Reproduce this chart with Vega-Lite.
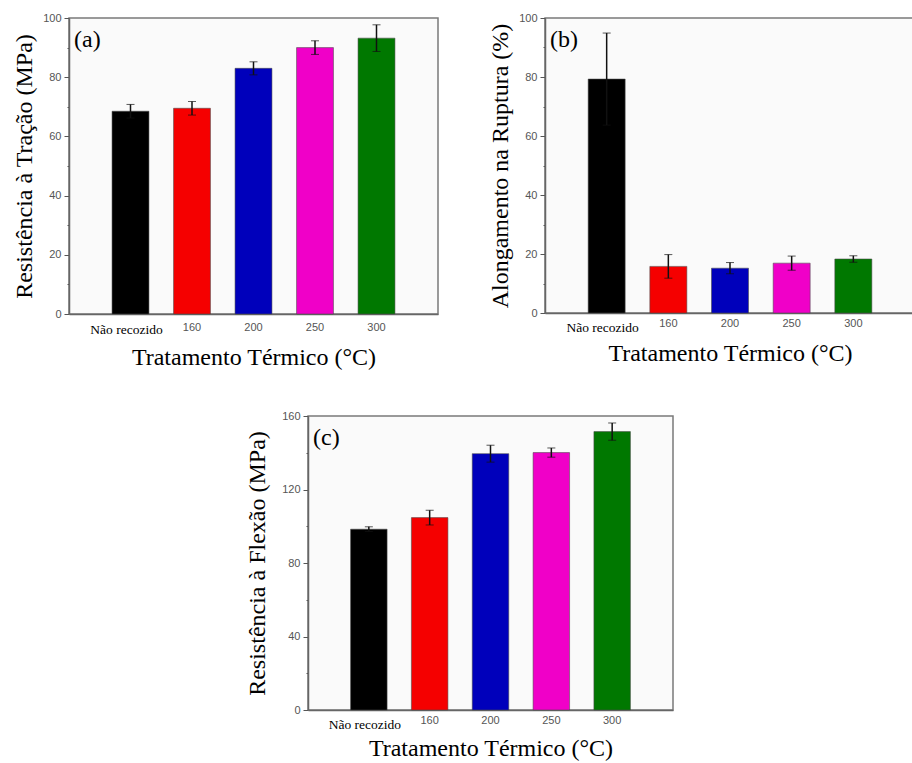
{
  "$schema": "https://vega.github.io/schema/vega-lite/v6.json",
  "padding": {"left": 11, "top": 11, "right": 0, "bottom": 0},
  "background": "white",
  "config": {
    "view": {"stroke": "#7a7a7a", "strokeWidth": 1.5, "fill": "#fafafa"},
    "axis": {
      "grid": false,
      "domainColor": "#666666",
      "domainWidth": 1.5,
      "titleFont": "Liberation Serif",
      "titleFontWeight": "normal",
      "titleFontSize": 24,
      "titleColor": "#000000"
    },
    "axisY": {
      "labelFont": "Liberation Sans",
      "labelFontSize": 11,
      "labelColor": "#555555",
      "tickColor": "#555555",
      "tickWidth": 1,
      "labelPadding": 3,
      "titlePadding": 6
    },
    "axisX": {
      "ticks": false,
      "labelAngle": 0,
      "titlePadding": 10
    },
    "title": {
      "font": "Liberation Serif",
      "fontSize": 24,
      "fontWeight": "normal",
      "color": "#000000",
      "anchor": "start",
      "frame": "group",
      "offset": -40,
      "dx": 5
    }
  },
  "datasets": {
    "tracao": [
      {"tratamento": "Não recozido", "media": 68.5, "erro": 2.3},
      {"tratamento": "160", "media": 69.5, "erro": 2.3},
      {"tratamento": "200", "media": 83.0, "erro": 2.2},
      {"tratamento": "250", "media": 90.0, "erro": 2.3},
      {"tratamento": "300", "media": 93.2, "erro": 4.5}
    ],
    "alongamento": [
      {"tratamento": "Não recozido", "media": 79.3, "erro": 15.6},
      {"tratamento": "160", "media": 15.8, "erro": 4.0},
      {"tratamento": "200", "media": 15.2, "erro": 1.9},
      {"tratamento": "250", "media": 16.9, "erro": 2.4},
      {"tratamento": "300", "media": 18.3, "erro": 1.1}
    ],
    "flexao": [
      {"tratamento": "Não recozido", "media": 98.4, "erro": 1.3},
      {"tratamento": "160", "media": 104.7, "erro": 4.0},
      {"tratamento": "200", "media": 139.5, "erro": 4.6},
      {"tratamento": "250", "media": 140.1, "erro": 2.5},
      {"tratamento": "300", "media": 151.5, "erro": 4.7}
    ]
  },
  "spacing": 38,
  "vconcat": [
    {
      "spacing": 48,
      "hconcat": [
        {
          "width": 369,
          "height": 296,
          "title": "(a)",
          "data": {"name": "tracao"},
          "encoding": {
            "x": {"field": "tratamento", "type": "nominal", "sort": null,
                  "scale": {"paddingInner": 0.4, "paddingOuter": 0.7},
                  "axis": {"title": "Tratamento Térmico (°C)",
                           "labelFont": {"condition": {"test": "datum.value === 'Não recozido'", "value": "Liberation Serif"}, "value": "Liberation Sans"},
                           "labelFontSize": {"condition": {"test": "datum.value === 'Não recozido'", "value": 13.5}, "value": 11},
                           "labelColor": {"condition": {"test": "datum.value === 'Não recozido'", "value": "#000000"}, "value": "#555555"},
                           "labelPadding": {"condition": {"test": "datum.value === 'Não recozido'", "value": 8}, "value": 7},
                           "labelOffset": {"condition": {"test": "datum.value === 'Não recozido'", "value": -4}, "value": 0}}},
            "y": {"field": "media", "type": "quantitative",
                  "scale": {"domain": [0, 100], "nice": false},
                  "axis": {"title": "Resistência à Tração (MPa)",
                           "values": [0, 10, 20, 30, 40, 50, 60, 70, 80, 90, 100],
                           "labelExpr": "datum.value % 20 === 0 ? datum.label : ''",
                           "tickSize": {"condition": {"test": "datum.value % 20 === 0", "value": 5}, "value": 2}}}
          },
          "layer": [
            {
              "mark": {"type": "bar", "stroke": "#4a4a4a", "strokeWidth": 0.8, "strokeOpacity": 0.7},
              "encoding": {
                "color": {"field": "tratamento", "type": "nominal", "legend": null,
                          "scale": {"domain": ["Não recozido", "160", "200", "250", "300"],
                                    "range": ["#000000", "#f50000", "#0000bb", "#f000c8", "#007800"]}}
              }
            },
            {
              "mark": {"type": "errorbar", "ticks": {"size": 8, "color": "#111111"}, "rule": {"strokeWidth": 1.5, "color": "#111111"}},
              "encoding": {"yError": {"field": "erro"}}
            }
          ]
        },
        {
          "width": 370,
          "height": 295,
          "title": "(b)",
          "data": {"name": "alongamento"},
          "encoding": {
            "x": {"field": "tratamento", "type": "nominal", "sort": null,
                  "scale": {"paddingInner": 0.4, "paddingOuter": 0.7},
                  "axis": {"title": "Tratamento Térmico (°C)",
                           "titlePadding": 8,
                           "labelFont": {"condition": {"test": "datum.value === 'Não recozido'", "value": "Liberation Serif"}, "value": "Liberation Sans"},
                           "labelFontSize": {"condition": {"test": "datum.value === 'Não recozido'", "value": 13.5}, "value": 11},
                           "labelColor": {"condition": {"test": "datum.value === 'Não recozido'", "value": "#000000"}, "value": "#555555"},
                           "labelPadding": {"condition": {"test": "datum.value === 'Não recozido'", "value": 7}, "value": 4},
                           "labelOffset": {"condition": {"test": "datum.value === 'Não recozido'", "value": -4}, "value": 0}}},
            "y": {"field": "media", "type": "quantitative",
                  "scale": {"domain": [0, 100], "nice": false},
                  "axis": {"title": "Alongamento na Ruptura (%)",
                           "values": [0, 10, 20, 30, 40, 50, 60, 70, 80, 90, 100],
                           "labelExpr": "datum.value % 20 === 0 ? datum.label : ''",
                           "tickSize": {"condition": {"test": "datum.value % 20 === 0", "value": 5}, "value": 2}}}
          },
          "layer": [
            {
              "mark": {"type": "bar", "stroke": "#4a4a4a", "strokeWidth": 0.8, "strokeOpacity": 0.7},
              "encoding": {
                "color": {"field": "tratamento", "type": "nominal", "legend": null,
                          "scale": {"domain": ["Não recozido", "160", "200", "250", "300"],
                                    "range": ["#000000", "#f50000", "#0000bb", "#f000c8", "#007800"]}}
              }
            },
            {
              "mark": {"type": "errorbar", "ticks": {"size": 8, "color": "#111111"}, "rule": {"strokeWidth": 1.5, "color": "#111111"}},
              "encoding": {"yError": {"field": "erro"}}
            }
          ]
        }
      ]
    },
    {
      "spacing": 0,
      "hconcat": [
        {
          "width": 175,
          "height": 10,
          "view": {"stroke": null, "fill": null},
          "data": {"values": []},
          "mark": "point",
          "encoding": {}
        },
        {
          "width": 365,
          "height": 294,
          "title": "(c)",
          "data": {"name": "flexao"},
          "encoding": {
            "x": {"field": "tratamento", "type": "nominal", "sort": null,
                  "scale": {"paddingInner": 0.4, "paddingOuter": 0.7},
                  "axis": {"title": "Tratamento Térmico (°C)",
                           "titlePadding": 6,
                           "labelFont": {"condition": {"test": "datum.value === 'Não recozido'", "value": "Liberation Serif"}, "value": "Liberation Sans"},
                           "labelFontSize": {"condition": {"test": "datum.value === 'Não recozido'", "value": 13.5}, "value": 11},
                           "labelColor": {"condition": {"test": "datum.value === 'Não recozido'", "value": "#000000"}, "value": "#555555"},
                           "labelPadding": {"condition": {"test": "datum.value === 'Não recozido'", "value": 7}, "value": 4},
                           "labelOffset": {"condition": {"test": "datum.value === 'Não recozido'", "value": -4}, "value": 0}}},
            "y": {"field": "media", "type": "quantitative",
                  "scale": {"domain": [0, 160], "nice": false},
                  "axis": {"title": "Resistência à Flexão (MPa)",
                           "titlePadding": 12,
                           "values": [0, 20, 40, 60, 80, 100, 120, 140, 160],
                           "labelExpr": "datum.value % 40 === 0 ? datum.label : ''",
                           "tickSize": {"condition": {"test": "datum.value % 40 === 0", "value": 5}, "value": 2}}}
          },
          "layer": [
            {
              "mark": {"type": "bar", "stroke": "#4a4a4a", "strokeWidth": 0.8, "strokeOpacity": 0.7},
              "encoding": {
                "color": {"field": "tratamento", "type": "nominal", "legend": null,
                          "scale": {"domain": ["Não recozido", "160", "200", "250", "300"],
                                    "range": ["#000000", "#f50000", "#0000bb", "#f000c8", "#007800"]}}
              }
            },
            {
              "mark": {"type": "errorbar", "ticks": {"size": 8, "color": "#111111"}, "rule": {"strokeWidth": 1.5, "color": "#111111"}},
              "encoding": {"yError": {"field": "erro"}}
            }
          ]
        }
      ]
    }
  ]
}
